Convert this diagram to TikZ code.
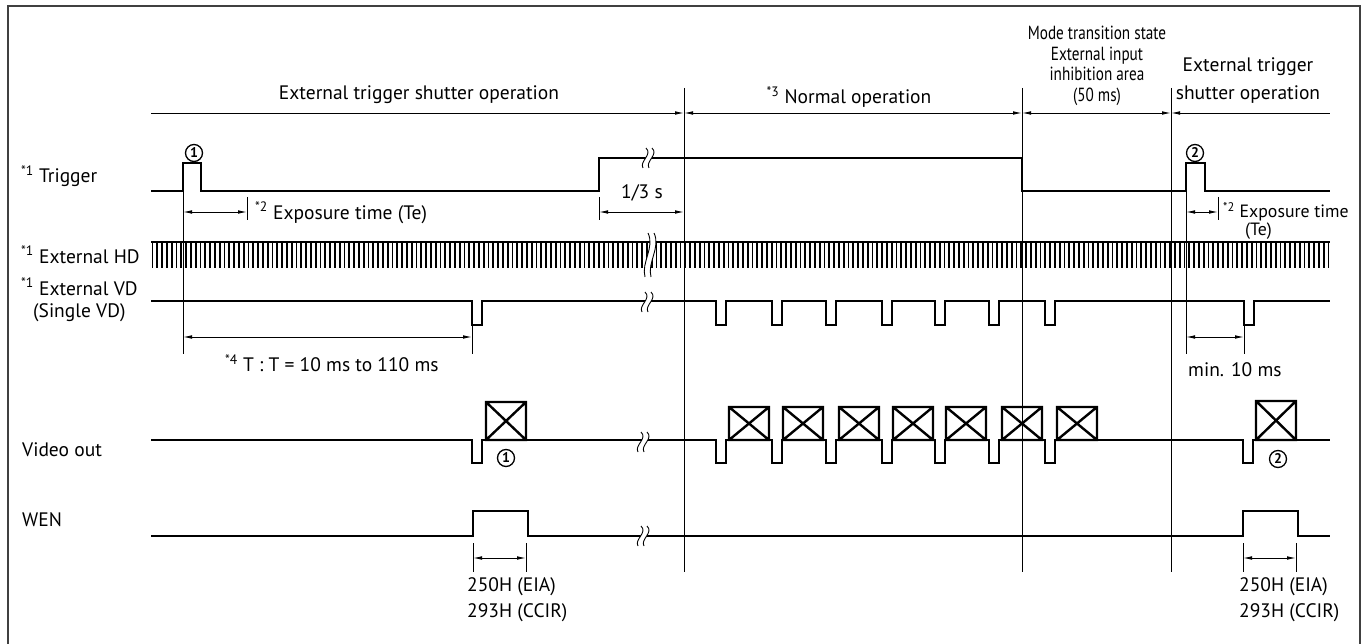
\documentclass[tikz,border=0pt]{standalone}
\usepackage{fontspec}
\setmainfont{PT Sans}
\newfontfamily\condfont[FakeStretch=0.8]{PT Sans}
\usetikzlibrary{arrows.meta}
\definecolor{framec}{HTML}{404040}
\newcommand\sz{\fontsize{19.5}{22}\selectfont}
\newcommand\sps[1]{\textsuperscript{#1}}
\tikzset{
  sig/.style={line width=2pt, line join=miter},
  thinl/.style={line width=0.9pt},
  tip/.tip={Latex[length=9pt,width=3.6pt]},
  dimarr/.style={line width=0.9pt, tip-tip},
  xb/.style={line width=2.4pt},
  brk/.style={line width=0.9pt},
  lbl/.style={inner sep=0pt, font=\sz, anchor=west},
  ctr/.style={inner sep=0pt, font=\sz, anchor=center, align=center},
  circ/.style={circle, draw, line width=1.3pt, inner sep=0pt, minimum size=17pt, font=\bfseries\fontsize{14}{14}\selectfont},
}
\newcommand\brkmark[3]{%
  \fill[white] (#1-2,#2-#3) .. controls (#1+5,#2-#3/3) and (#1-9,#2+#3/3) .. (#1-5,#2+#3)
     -- (#1+1,#2+#3) .. controls (#1-3,#2+#3/3) and (#1+11,#2-#3/3) .. (#1+4,#2-#3) -- cycle;
  \draw[brk] (#1-2,#2-#3) .. controls (#1+5,#2-#3/3) and (#1-9,#2+#3/3) .. (#1-5,#2+#3);
  \draw[brk] (#1+4,#2-#3) .. controls (#1+11,#2-#3/3) and (#1-3,#2+#3/3) .. (#1+1,#2+#3);
}
\begin{document}
\begin{tikzpicture}[x=1pt,y=-1pt]
\useasboundingbox (0,0) rectangle (1366,644);
% frame
\draw[framec, line width=2pt] (8,644) -- (8,6) -- (1360,6) -- (1360,644);

% section headers
\node[ctr] (h1) at (419,95) {External trigger shutter operation};
\node[ctr] (h2) at (849,97) {\sps{*3} Normal operation};
\node[ctr, font=\condfont\fontsize{19}{20.7}\selectfont] (h3) at (1097,66) {Mode transition state\\External input\\inhibition area\\(50 ms)};
\node[ctr, font=\fontsize{19.5}{28}\selectfont] (h4) at (1248,81) {External trigger\\shutter operation};

% section line with boundary arrows
\draw[thinl, -tip] (151,113) -- (684,113);
\draw[thinl, tip-tip] (684,113) -- (1022,113);
\draw[thinl, tip-tip] (1022,113) -- (1171,113);
\draw[thinl, tip-] (1171,113) -- (1330,113);

% boundary vertical lines
\foreach \vx in {684,1022,1171} \draw[thinl] (\vx,88) -- (\vx,572);
\draw[thinl] (183,191) -- (183,354);
\draw[thinl] (1186,191) -- (1186,354);

% left labels
\node[lbl] (lt) at (21,176) {\sps{*1} Trigger};
\node[lbl] (lhd) at (21,255) {\sps{*1} External HD};
\node[lbl] (lvd) at (21,287) {\sps{*1} External VD};
\node[lbl] (lsv) at (33,313) {(Single VD)};
\node[lbl] (lvo) at (22,450) {Video out};
\node[lbl] (lwen) at (22,520) {WEN};

% Trigger
\draw[sig] (151,191) -- (183,191) -- (183,163) -- (201,163) -- (201,191) -- (599,191) -- (599,158)
  -- (1022,158) -- (1022,191) -- (1186,191) -- (1186,163) -- (1205,163) -- (1205,191) -- (1330,191);
\node[circ] (c1) at (194,153) {1};
\node[circ] (c2) at (1195,153) {2};

% External HD comb
\draw[line width=1.3pt] (151,242) -- (1330,242);
\foreach \k in {0,...,245} \draw[line width=1.7pt] (152.5+\k*4.8,242) -- (152.5+\k*4.8,268);

% External VD
\draw[sig] (151,301)
  \foreach \px in {472,716,772,826,882,935,989,1045,1244} { -- (\px,301) -- (\px,325) -- (\px+10,325) -- (\px+10,301) }
  -- (1330,301);

% Video out
\draw[sig] (151,440)
  \foreach \px in {472,716,772,826,882,935,989,1045,1243} { -- (\px,440) -- (\px,463) -- (\px+10,463) -- (\px+10,440) }
  -- (1330,440);
\draw[xb] (486,402) rectangle (526,440) (486,402) -- (526,440) (526,402) -- (486,440);
\foreach \bx in {729,783,839,893,946,1002,1057}
  \draw[xb] (\bx,407) rectangle (\bx+40,440) (\bx,407) -- (\bx+40,440) (\bx+40,407) -- (\bx,440);
\draw[xb] (1256,401) rectangle (1296,440) (1256,401) -- (1296,440) (1296,401) -- (1256,440);
\node[circ] (c3) at (506,458) {1};
\node[circ] (c4) at (1278,459) {2};

% WEN
\draw[sig] (151,536) -- (473,536) -- (473,511) -- (528,511) -- (528,536) -- (1243,536) -- (1243,511)
  -- (1298,511) -- (1298,536) -- (1330,536);

% break marks
\brkmark{648}{158}{10}
\brkmark{650}{255}{22}
\brkmark{647}{302}{10}
\brkmark{643}{442}{10}
\brkmark{643}{536}{10}

% exposure time 1
\draw[thinl] (247,197) -- (247,220);
\draw[dimarr] (183,212) -- (247,212);
\node[lbl] (te1) at (255,213) {\sps{*2} Exposure time (Te)};

% 1/3 s
\draw[thinl] (599,197) -- (599,220);
\draw[dimarr] (599,212) -- (684,212);
\node[ctr] (t13) at (642,193) {1/3 s};

% T
\draw[thinl] (472,325) -- (472,354);
\draw[dimarr] (183,337) -- (472,337);
\node[lbl] (tT) at (225,363) {\sps{*4} T : T = 10 ms to 110 ms};

% exposure time 2
\draw[thinl] (1218,197) -- (1218,220);
\draw[dimarr] (1186,212) -- (1218,212);
\node[lbl, font=\fontsize{17.8}{20}\selectfont] (te2) at (1223,212) {\sps{*2} Exposure time};
\node[lbl, font=\fontsize{17.8}{20}\selectfont] (te2b) at (1245,231) {(Te)};

% min 10 ms
\draw[thinl] (1244,325) -- (1244,354);
\draw[dimarr] (1186,337) -- (1244,337);
\node[lbl] (tm) at (1188,370) {min. 10 ms};

% WEN widths
\draw[thinl] (473,543) -- (473,572) (526,543) -- (526,572);
\draw[dimarr] (473,558) -- (526,558);
\node[lbl] (w1) at (467,587) {250H (EIA)};
\node[lbl] (w2) at (467,613) {293H (CCIR)};
\draw[thinl] (1243,543) -- (1243,572) (1296,543) -- (1296,572);
\draw[dimarr] (1243,558) -- (1296,558);
\node[lbl] (w3) at (1239,587) {250H (EIA)};
\node[lbl] (w4) at (1239,613) {293H (CCIR)};
\end{tikzpicture}
\end{document}
